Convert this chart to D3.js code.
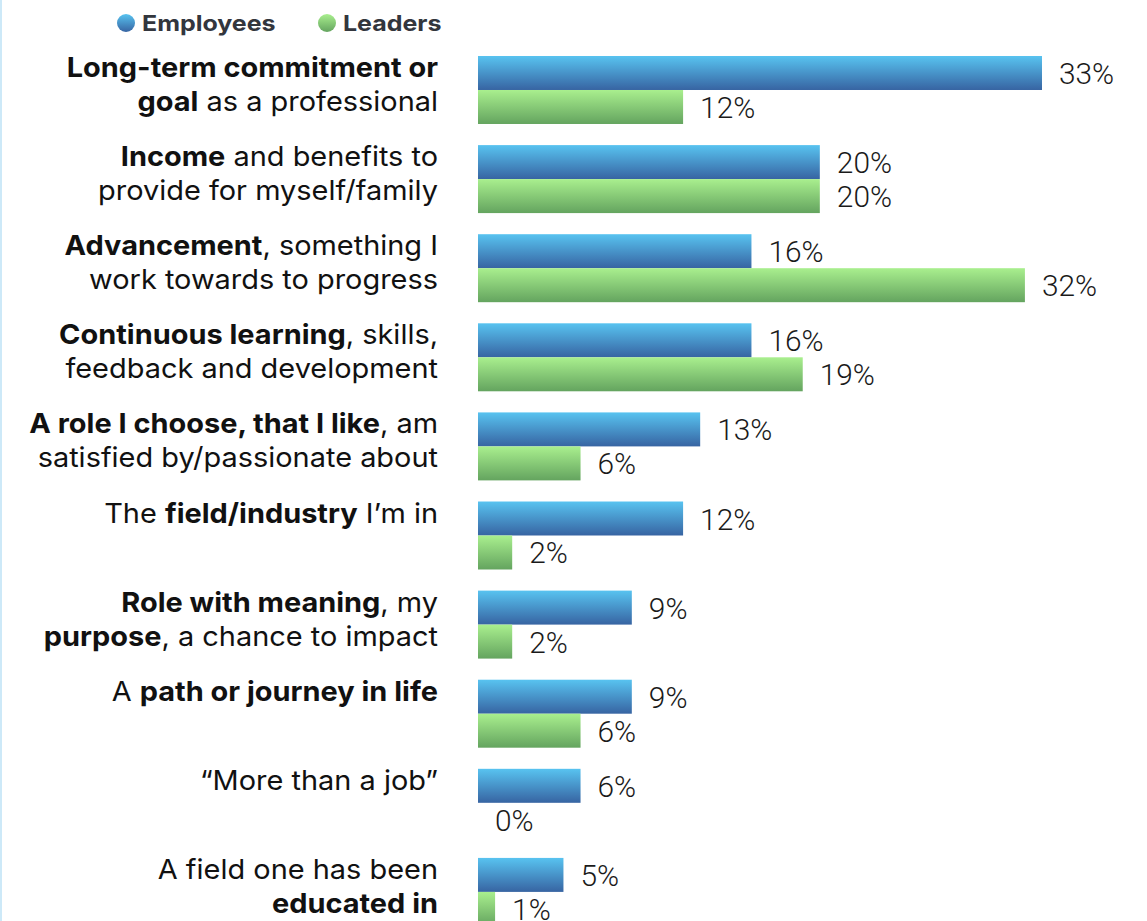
<!DOCTYPE html>
<html>
<head>
<meta charset="utf-8">
<script src="https://cdn.jsdelivr.net/npm/d3@7"></script>
<style>
  html, body { margin: 0; padding: 0; background: #ffffff; overflow: hidden; }
  svg { display: block; }
</style>
</head>
<body>
<svg id="chart" width="1147" height="921"></svg>
<script>
// ---- DATA ----
const categories = [
  ["**Long-term commitment or**", "**goal** as a professional"],
  ["**Income** and benefits to", "provide for myself/family"],
  ["**Advancement**, something I", "work towards to progress"],
  ["**Continuous learning**, skills,", "feedback and development"],
  ["**A role I choose, that I like**, am", "satisfied by/passionate about"],
  ["The **field/industry** I’m in"],
  ["**Role with meaning**, my", "**purpose**, a chance to impact"],
  ["A **path or journey in life**"],
  ["“More than a job”"],
  ["A field one has been", "**educated in**"]
];
const seriesNames = ["Employees", "Leaders"];
const employees = [33, 20, 16, 16, 13, 12, 9, 9, 6, 5];
const leaders   = [12, 20, 32, 19, 6, 2, 2, 6, 0, 1];

// ---- CHART ----
const svg = d3.select("#chart");
const W = 1147, H = 921;

const defs = svg.append("defs");
function grad(id, top, bottom) {
  const g = defs.append("linearGradient").attr("id", id)
    .attr("x1", 0).attr("y1", 0).attr("x2", 0).attr("y2", 1);
  g.append("stop").attr("offset", "0%").attr("stop-color", top);
  g.append("stop").attr("offset", "100%").attr("stop-color", bottom);
}
grad("gEmp", "#58c3f0", "#3764a2");
grad("gLead", "#a9ef8e", "#64a45f");
const fills = ["url(#gEmp)", "url(#gLead)"];

// left border strip
svg.append("rect").attr("x", 0).attr("y", 0).attr("width", 2).attr("height", H).attr("fill", "#cde9f8");

const idx = d3.range(categories.length);
const y0 = d3.scaleBand().domain(idx).range([56, 56 + 9 * 89.1 + 68]).paddingInner(0.237).paddingOuter(0);
const y1 = d3.scaleBand().domain(seriesNames).range([0, y0.bandwidth()]).padding(0);
const x = d3.scaleLinear().domain([0, 33]).range([478, 1042]);

const data = idx.map(i => ({ i, values: [employees[i], leaders[i]] }));

const groups = svg.append("g").selectAll("g").data(data).join("g")
  .attr("transform", d => `translate(0,${y0(d.i)})`);

groups.selectAll("rect").data(d => d.values.map((v, k) => ({ v, k })))
  .join("rect")
  .attr("x", x(0))
  .attr("y", d => y1(seriesNames[d.k]))
  .attr("width", d => x(d.v) - x(0))
  .attr("height", y1.bandwidth())
  .attr("fill", d => fills[d.k]);

groups.selectAll("text.val").data(d => d.values.map((v, k) => ({ v, k })))
  .join("text")
  .attr("class", "val")
  .attr("transform", d => `translate(${x(d.v) + 17},${y1(seriesNames[d.k]) + y1.bandwidth() / 2 + 11}) scale(1.03,1)`)
  .attr("font-family", "Roboto, 'Noto Sans', sans-serif")
  .attr("font-weight", 300)
  .attr("font-size", 29)
  .attr("fill", "#1a1a1a")
  .text(d => d.v + "%");

// category labels with bold segments
function addRich(textSel, str) {
  const parts = str.split("**");
  parts.forEach((p, j) => {
    if (!p) return;
    textSel.append("tspan").attr("font-weight", j % 2 === 1 ? 700 : 400).text(p);
  });
}
groups.each(function(d) {
  const g = d3.select(this);
  const lines = categories[d.i];
  lines.forEach((line, li) => {
    const t = g.append("text")
      .attr("transform", `translate(438,${y1(seriesNames[li]) + y1.bandwidth() / 2 + 4}) scale(1.052,1)`)
      .attr("text-anchor", "end")
      .attr("font-family", "Inter, 'Noto Sans', sans-serif")
      .attr("font-size", 27.5)
      .attr("fill", "#111");
    addRich(t, line);
  });
});

// legend
const legend = svg.append("g");
const legItems = [{ name: seriesNames[0], cx: 126, tx: 142 }, { name: seriesNames[1], cx: 327, tx: 343 }];
legItems.forEach((it, k) => {
  legend.append("circle").attr("cx", it.cx).attr("cy", 23).attr("r", 9).attr("fill", fills[k]);
  legend.append("text")
    .attr("transform", `translate(${it.tx},31) scale(1.135,1)`)
    .attr("font-family", "Inter, 'Noto Sans', sans-serif")
    .attr("font-weight", 700)
    .attr("font-size", 22)
    .attr("fill", "#33363d")
    .text(it.name);
});
</script>
</body>
</html>
